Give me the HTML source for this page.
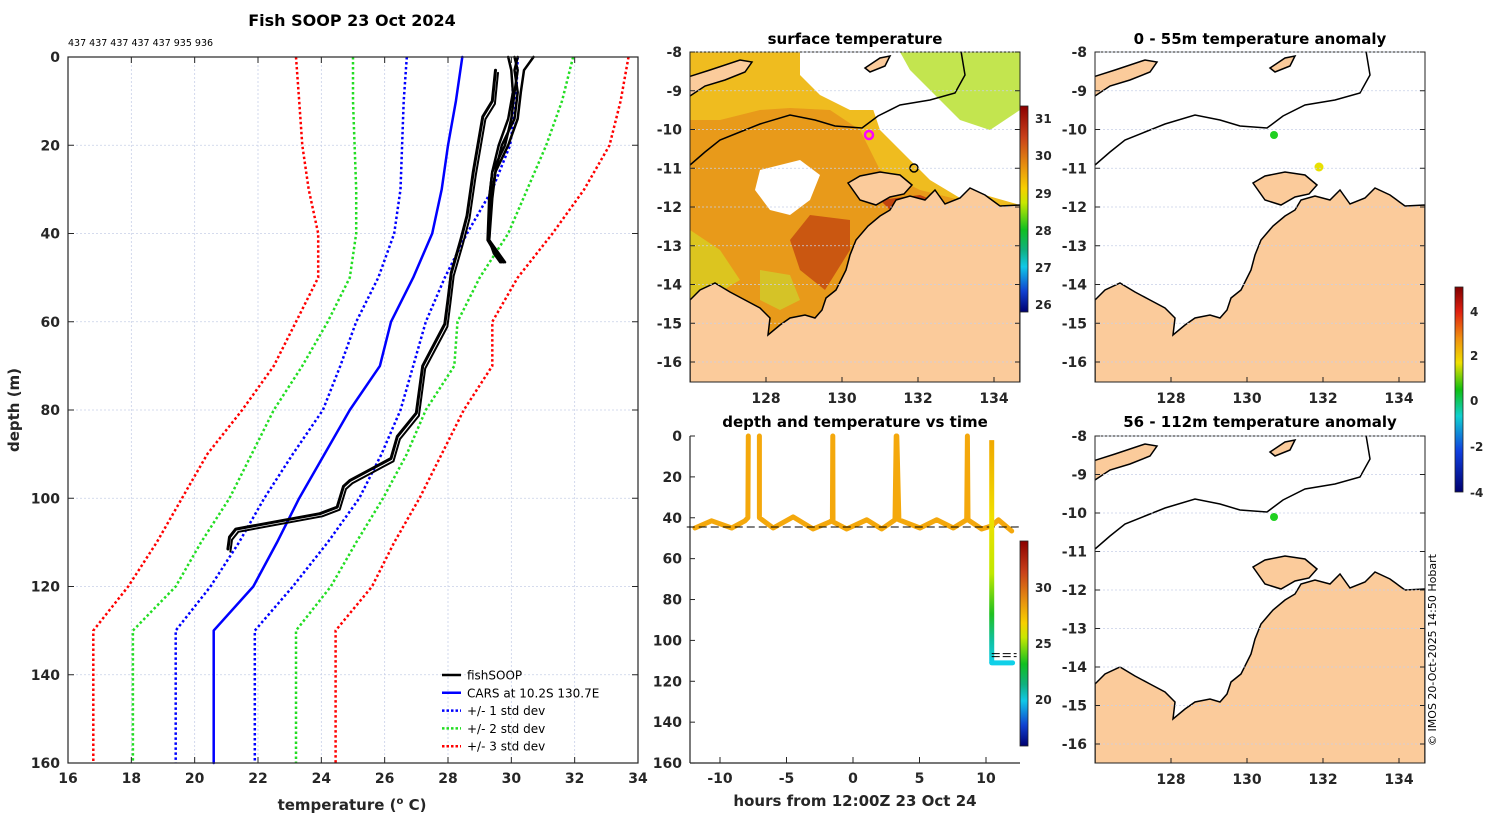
<!DOCTYPE html>
<html><head><meta charset="utf-8"><style>
html,body{margin:0;padding:0;background:#fff;}
svg{display:block;font-family:"DejaVu Sans","Liberation Sans",sans-serif;}
.tk{font-size:14px;font-weight:bold;fill:#262626;}
.ttl{font-size:15px;font-weight:bold;fill:#000;}
</style></head><body>
<svg id="fig" width="1500" height="820" viewBox="0 0 1500 820" xmlns="http://www.w3.org/2000/svg">
<defs>
<clipPath id="clipSst"><rect x="690" y="52" width="330" height="330"/></clipPath>
<clipPath id="clipA1"><rect x="1095" y="52" width="330" height="330"/></clipPath>
<clipPath id="clipA2"><rect x="1095" y="436" width="330" height="327"/></clipPath>
<linearGradient id="sstbar" x1="0" y1="0" x2="0" y2="1">
<stop offset="0" stop-color="#8b0000"/><stop offset="0.15" stop-color="#c8401a"/><stop offset="0.3" stop-color="#e8960f"/><stop offset="0.4" stop-color="#f7d000"/><stop offset="0.47" stop-color="#c8e800"/><stop offset="0.6" stop-color="#10c020"/><stop offset="0.7" stop-color="#10b080"/><stop offset="0.78" stop-color="#10c8e8"/><stop offset="0.9" stop-color="#1040d0"/><stop offset="1" stop-color="#000070"/>
</linearGradient>
<linearGradient id="anombar" x1="0" y1="0" x2="0" y2="1">
<stop offset="0" stop-color="#800000"/><stop offset="0.12" stop-color="#e02010"/><stop offset="0.25" stop-color="#f09010"/><stop offset="0.37" stop-color="#f0e000"/><stop offset="0.5" stop-color="#10c010"/><stop offset="0.63" stop-color="#10d0d0"/><stop offset="0.8" stop-color="#1040e0"/><stop offset="1" stop-color="#000070"/>
</linearGradient>
<linearGradient id="castgrad" x1="0" y1="0" x2="0" y2="1">
<stop offset="0" stop-color="#f0a800"/><stop offset="0.35" stop-color="#f0e000"/><stop offset="0.6" stop-color="#c0e800"/><stop offset="0.78" stop-color="#20c020"/><stop offset="0.9" stop-color="#10c0a0"/><stop offset="1" stop-color="#10d0e8"/>
</linearGradient>
<g id="coast">
<path d="M690,300 L700,290 L715,283 L730,292 L745,300 L760,308 L770,318 L768,335 L780,325 L790,318 L805,315 L815,318 L822,310 L826,298 L836,290 L846,270 L850,255 L856,240 L868,226 L880,216 L890,210 L896,200 L910,196 L925,200 L935,190 L945,204 L960,198 L970,188 L985,195 L1000,206 L1020,205 L1020,400 L690,400 Z" fill="#fbcb9b" stroke="#000" stroke-width="1.5"/>
<path d="M848,183 L860,176 L880,172 L900,175 L912,185 L904,194 L890,197 L876,205 L860,200 Z" fill="#fbcb9b" stroke="#000" stroke-width="1.5"/>
<path d="M685,78 L710,70 L740,60 L752,62 L745,72 L725,80 L705,86 L690,96 Z" fill="#fbcb9b" stroke="#000" stroke-width="1.5"/>
<path d="M865,68 L880,58 L890,56 L885,66 L870,72 Z" fill="#fbcb9b" stroke="#000" stroke-width="1.5"/>
<path d="M690,165 L705,152 L720,140 L740,132 L760,124 L790,115 L815,120 L835,126 L862,128 L878,116 L900,105 L930,100 L955,93 L965,75 L960,45" fill="none" stroke="#000" stroke-width="1.5"/>
</g>
</defs>
<g id="main"></g>
<g id="sst">
<g clip-path="url(#clipSst)">
<rect x="690" y="52" width="330" height="330" fill="#e89a1a"/>
<path d="M690,52 L1020,52 L1020,210 L960,200 L920,190 L880,170 L860,130 L830,110 L790,108 L760,110 L720,120 L690,120 Z" fill="#f0c020" opacity="0.9"/>
<path d="M860,52 L1020,52 L1020,205 L985,195 L960,198 L930,180 L900,150 L880,130 L870,100 L860,70 Z" fill="#fff"/>
<path d="M900,52 L1020,52 L1020,110 L990,130 L960,120 L930,90 L910,70 Z" fill="#b8e030" opacity="0.85"/>
<path d="M800,52 L860,52 L870,80 L880,110 L850,110 L820,95 L800,75 Z" fill="#fff"/>
<path d="M760,170 L800,160 L820,175 L810,200 L790,215 L770,210 L755,190 Z" fill="#fff"/>
<path d="M810,215 L850,220 L850,250 L825,290 L800,270 L790,240 Z" fill="#c0400f" opacity="0.75"/>
<path d="M880,200 L920,195 L945,205 L920,218 L895,215 Z" fill="#b8300c" opacity="0.8"/>
<path d="M690,230 L720,250 L740,280 L720,292 L690,300 Z" fill="#d8d020" opacity="0.8"/>
<path d="M760,270 L790,275 L800,300 L780,310 L760,300 Z" fill="#c8e030" opacity="0.6"/>
<use href="#coast"/>
</g>
<circle cx="869" cy="135" r="4" fill="none" stroke="#ff00ff" stroke-width="2.5"/>
<circle cx="914" cy="168" r="4" fill="none" stroke="#000" stroke-width="1.5"/>
<rect x="690" y="52" width="330" height="330" fill="none" stroke="#222" stroke-width="1"/>
<text x="855" y="44" text-anchor="middle" class="ttl">surface temperature</text>
<rect x="1020" y="106" width="8" height="206" fill="url(#sstbar)" stroke="#222" stroke-width="0.8"/>
</g>
<g id="anom1">
<g clip-path="url(#clipA1)"><g transform="translate(405,0)"><use href="#coast"/></g></g>
<circle cx="1274" cy="135" r="4" fill="#20d020"/>
<circle cx="1319" cy="167" r="4.5" fill="#e8e000"/>
<rect x="1095" y="52" width="330" height="330" fill="none" stroke="#222" stroke-width="1"/>
<text x="1260" y="44" text-anchor="middle" class="ttl">0 - 55m temperature anomaly</text>
</g>
<g id="anom2">
<g clip-path="url(#clipA2)"><g transform="translate(405,384)"><use href="#coast"/></g></g>
<circle cx="1274" cy="517" r="4" fill="#20d020"/>
<rect x="1095" y="436" width="330" height="327" fill="none" stroke="#222" stroke-width="1"/>
<text x="1260" y="427" text-anchor="middle" class="ttl">56 - 112m temperature anomaly</text>
<rect x="1455" y="287" width="8" height="205" fill="url(#anombar)" stroke="#222" stroke-width="0.8"/>
</g>
<g id="dt"></g>
<text transform="translate(1436,650) rotate(-90)" text-anchor="middle" font-size="11" fill="#000">© IMOS 20-Oct-2025 14:50 Hobart</text>
</svg>
<script>
const NS='http://www.w3.org/2000/svg';
// ---- profile data (temperature, depth) ----
const stdDepths=[0,10,20,30,40,50,60,70,80,90,100,110,120,130,160];
const carsMean=[28.45,28.25,28.0,27.8,27.5,26.9,26.2,25.85,24.9,24.1,23.3,22.6,21.85,20.6,20.6];
const minus1=[26.7,26.6,26.55,26.5,26.3,25.8,25.1,24.6,24.05,23.1,22.2,21.4,20.5,19.4,19.4];
const plus1=[30.2,30.15,29.96,29.4,28.6,27.9,27.3,26.9,26.5,25.9,25.2,24.2,23.1,21.9,21.9];
const minus2=[25.0,25.0,25.05,25.1,25.1,24.9,24.2,23.4,22.5,21.8,21.1,20.2,19.4,18.05,18.05];
const plus2=[31.95,31.6,31.1,30.5,29.9,29.0,28.3,28.2,27.3,26.7,25.95,25.1,24.3,23.2,23.2];
const minus3=[23.2,23.3,23.4,23.6,23.9,23.9,23.2,22.5,21.5,20.4,19.6,18.8,17.9,16.8,16.8];
const plus3=[33.7,33.45,33.1,32.3,31.3,30.2,29.4,29.4,28.5,27.8,27.1,26.3,25.6,24.45,24.45];
const fishLongT=[29.5,29.4,29.1,28.8,28.6,28.4,28.1,28.0,27.9,27.2,27.0,26.4,26.2,24.9,24.7,24.5,23.95,21.3,21.1,21.05];
const fishLongD=[3,10,13.5,26,36,41.5,49,55,60.5,70,80.7,86,91,96,97.3,102,103.5,107,108.8,111.5];
const fishShortD=[0,3,8,14,20,26,32,41.5,44.5,46.5];
const fishShort1=[30.7,30.4,30.3,30.2,29.9,29.5,29.35,29.3,29.6,29.8];
const fishShort2=[30.1,30.2,30.1,30.0,29.8,29.4,29.3,29.25,29.5,29.7];
const fishShort3=[29.9,30.0,30.05,29.9,29.6,29.4,29.3,29.3,29.55,29.75];
const fishShort4=[30.2,30.1,30.2,30.1,29.7,29.5,29.4,29.3,29.45,29.65];
const tempTicks=[16,18,20,22,24,26,28,30,32,34];
const depthTicks=[0,20,40,60,80,100,120,140,160];
// ---- depth vs time data ----
const towHours1=[-11.88,-10.63,-9.12,-8.12,-7.9,-7.87];
const towDepths1=[45,41.5,45,41.5,40,0];
const towHours2=[-7.04,-7.04,-6.0,-4.5,-3.0,-1.73,-1.55,-1.52,-1.5,-0.47,1.03,2.16,3.16,3.25,3.29,3.45,5.04,6.29,7.54,8.55,8.6,8.65,9.68,10.43,10.93,11.93];
const towDepths2=[0,40,45,39.6,45.5,42,41,0,42,45.5,41,45.5,41,0,0,41,45,41,45,41,0,41,45.5,44,41,46.5];
const castHour=10.43;
const castDepths=[2,111];
const castEndHour=12.0;
const hourTicks=[-10,-5,0,5,10];
const towLineDepth=44.5;
const bottomLineDepth=106.5;

const X=t=>68+(t-16)*(570/18), Y=d=>57+d*(706/160);
const XH=h=>853+h*13.3, YD=d=>436+d*2.044;
function el(parent,tag,attrs,text){const e=document.createElementNS(NS,tag);for(const k in attrs)e.setAttribute(k,attrs[k]);if(text!==undefined)e.textContent=text;parent.appendChild(e);return e;}
function poly(parent,xs,ys,fx,fy,stroke,w,dash,name){
 const pts=xs.map((v,i)=>fx(v).toFixed(1)+','+fy(ys[i]).toFixed(1)).join(' ');
 const p=el(parent,'polyline',{points:pts,fill:'none',stroke:stroke,'stroke-width':w,'stroke-linejoin':'round','stroke-linecap':dash?'butt':'round'});
 if(dash)p.setAttribute('stroke-dasharray',dash);
 
 
 return p;}
const fig=document.getElementById('fig');
const main=document.getElementById('main');
tempTicks.forEach(t=>{const l=el(main,'line',{x1:X(t),x2:X(t),y1:57,y2:763,stroke:'#c8d0e8','stroke-width':0.8,'stroke-dasharray':'2 2'});

});
depthTicks.forEach(d=>{const l=el(main,'line',{x1:68,x2:638,y1:Y(d),y2:Y(d),stroke:'#c8d0e8','stroke-width':0.8,'stroke-dasharray':'2 2'});

});
const red='#ff0000',grn='#22dd22',blu='#0000ff';
poly(main,minus3,stdDepths,X,Y,red,2.5,'2.5 2.5','minus-3-std');
poly(main,plus3,stdDepths,X,Y,red,2.5,'2.5 2.5','plus-3-std');
poly(main,minus2,stdDepths,X,Y,grn,2.5,'2.5 2.5','minus-2-std');
poly(main,plus2,stdDepths,X,Y,grn,2.5,'2.5 2.5','plus-2-std');
poly(main,minus1,stdDepths,X,Y,blu,2.5,'2.5 2.5','minus-1-std');
poly(main,plus1,stdDepths,X,Y,blu,2.5,'2.5 2.5','plus-1-std');
poly(main,carsMean,stdDepths,X,Y,blu,2.5,null,'cars-mean');
poly(main,fishLongT,fishLongD,X,Y,'#000',3,null,'fishsoop-profile');
poly(main,fishLongT.map(t=>t+0.08),fishLongD.map(d=>d+0.6),X,Y,'#000',2,null,'fishsoop-profile');
poly(main,fishShort1,fishShortD,X,Y,'#000',2.5,null,'fishsoop-profile');
poly(main,fishShort2,fishShortD,X,Y,'#000',2.5,null,'fishsoop-profile');
poly(main,fishShort3,fishShortD,X,Y,'#000',2.5,null,'fishsoop-profile');
poly(main,fishShort4,fishShortD,X,Y,'#000',2.5,null,'fishsoop-profile');
const fr=el(main,'rect',{x:68,y:57,width:570,height:706,fill:'none',stroke:'#262626','stroke-width':1.2});


tempTicks.forEach(t=>{el(main,'line',{x1:X(t),x2:X(t),y1:763,y2:757,stroke:'#262626'});el(main,'line',{x1:X(t),x2:X(t),y1:57,y2:63,stroke:'#262626'});
const tx=el(main,'text',{x:X(t),y:783,'text-anchor':'middle',class:'tk'},String(t));

});
depthTicks.forEach(d=>{el(main,'line',{x1:68,x2:74,y1:Y(d),y2:Y(d),stroke:'#262626'});el(main,'line',{x1:638,x2:632,y1:Y(d),y2:Y(d),stroke:'#262626'});
const tx=el(main,'text',{x:60,y:Y(d)+5,'text-anchor':'end',class:'tk'},String(d));

});
let t=el(main,'text',{x:352,y:26,'text-anchor':'middle','font-size':16,'font-weight':'bold'},'Fish SOOP 23 Oct 2024');


t=el(main,'text',{x:68,y:46,'font-size':9.5},'437 437 437 437 437 935 936');


t=el(main,'text',{x:352,y:810,'text-anchor':'middle','font-size':15,'font-weight':'bold',fill:'#262626'});
t.innerHTML='temperature (<tspan dy="-6" font-size="10">o</tspan><tspan dy="6"> C)</tspan>';


t=el(main,'text',{transform:'translate(19,410) rotate(-90)','text-anchor':'middle','font-size':15,'font-weight':'bold',fill:'#262626'},'depth (m)');


const leg=[['fishSOOP','#000',null],['CARS at 10.2S 130.7E',blu,null],['+/- 1 std dev',blu,'2.5 2'],['+/- 2 std dev',grn,'2.5 2'],['+/- 3 std dev',red,'2.5 2']];
leg.forEach((e,i)=>{const y=675+i*17.8;const g=el(main,'g',{});


const l=el(g,'line',{x1:442,x2:461,y1:y,y2:y,stroke:e[1],'stroke-width':2.5});if(e[2])l.setAttribute('stroke-dasharray',e[2]);
el(g,'text',{x:467,y:y+4.5,'font-size':12},e[0]);});
function mapTicks(x0,y0,h,step){
 for(let i=0;i<=8;i++){const lat=-8-i;const y=y0+i*step;
  el(fig,'line',{x1:x0,x2:x0+330,y1:y,y2:y,stroke:'#c8d0e8','stroke-width':0.8,'stroke-dasharray':'2 2'});
  el(fig,'line',{x1:x0,x2:x0+5,y1:y,y2:y,stroke:'#222'});
  el(fig,'line',{x1:x0+330,x2:x0+325,y1:y,y2:y,stroke:'#222'});
  const tx=el(fig,'text',{x:x0-8,y:y+5,'text-anchor':'end',class:'tk'},String(lat));
  
  }
 [128,130,132,134].forEach(lon=>{const x=x0+(lon-126)*38;
  el(fig,'line',{x1:x,x2:x,y1:y0+h-5,y2:y0+h,stroke:'#222'});
  const tx=el(fig,'text',{x:x,y:y0+h+21,'text-anchor':'middle',class:'tk'},String(lon));
  
  });
}
mapTicks(690,52,330,38.75);
mapTicks(1095,52,330,38.75);
mapTicks(1095,436,327,38.5);
[[31,118],[30,155],[29,193],[28,230],[27,267],[26,304]].forEach(a=>{el(fig,'text',{x:1035,y:a[1]+5,'font-size':12,'font-weight':'bold',fill:'#262626'},String(a[0]));});
[[4,311],[2,355],[0,400],[-2,446],[-4,492]].forEach(a=>{el(fig,'text',{x:1470,y:a[1]+5,'font-size':12,'font-weight':'bold',fill:'#262626'},String(a[0]));});
const dt=document.getElementById('dt');
el(dt,'line',{x1:690,x2:690,y1:436,y2:763,stroke:'#262626','stroke-width':1.2});
el(dt,'line',{x1:690,x2:1020,y1:763,y2:763,stroke:'#262626','stroke-width':1.2});
depthTicks.forEach(d=>{el(dt,'line',{x1:690,x2:695,y1:YD(d),y2:YD(d),stroke:'#262626'});
 const tx=el(dt,'text',{x:682,y:YD(d)+5,'text-anchor':'end',class:'tk'},String(d));
 
 });
hourTicks.forEach(h=>{el(dt,'line',{x1:XH(h),x2:XH(h),y1:763,y2:757,stroke:'#262626'});
 const tx=el(dt,'text',{x:XH(h),y:783,'text-anchor':'middle',class:'tk'},String(h));
 
 });
poly(dt,towHours1,towDepths1,XH,YD,'#f4a80c',5,null,'tow-track');
poly(dt,towHours2,towDepths2,XH,YD,'#f4a80c',5,null,'tow-track');
let dl=el(dt,'line',{x1:XH(-12.5),x2:XH(12.5),y1:YD(towLineDepth),y2:YD(towLineDepth),stroke:'#000','stroke-width':1,'stroke-dasharray':'8 4'});


const cast=el(dt,'path',{d:`M${XH(castHour)},${YD(castDepths[0])} L${XH(castHour)+0.01},${YD(castDepths[1])}`,stroke:'url(#castgrad)','stroke-width':5,fill:'none'});


const bt=el(dt,'line',{x1:XH(castHour),x2:XH(castEndHour),y1:YD(castDepths[1]),y2:YD(castDepths[1]),stroke:'#10d0e8','stroke-width':5,'stroke-linecap':'round'});


dl=el(dt,'line',{x1:XH(castHour),x2:XH(12.3),y1:YD(bottomLineDepth),y2:YD(bottomLineDepth),stroke:'#000','stroke-width':1,'stroke-dasharray':'8 3'});


dl=el(dt,'line',{x1:XH(castHour),x2:XH(12.3),y1:YD(bottomLineDepth)+3,y2:YD(bottomLineDepth)+3,stroke:'#000','stroke-width':1,'stroke-dasharray':'8 3'});


t=el(dt,'text',{x:855,y:427,'text-anchor':'middle',class:'ttl'},'depth and temperature vs time');


t=el(dt,'text',{x:855,y:806,'text-anchor':'middle','font-size':15,'font-weight':'bold',fill:'#262626'},'hours from 12:00Z 23 Oct 24');


const cb=el(dt,'rect',{x:1020,y:541,width:8,height:205,fill:'url(#sstbar)',stroke:'#222','stroke-width':0.8});


[[30,587],[25,643],[20,699]].forEach(a=>{el(dt,'text',{x:1035,y:a[1]+5,'font-size':12,'font-weight':'bold',fill:'#262626'},String(a[0]));});
</script>
</body></html>
